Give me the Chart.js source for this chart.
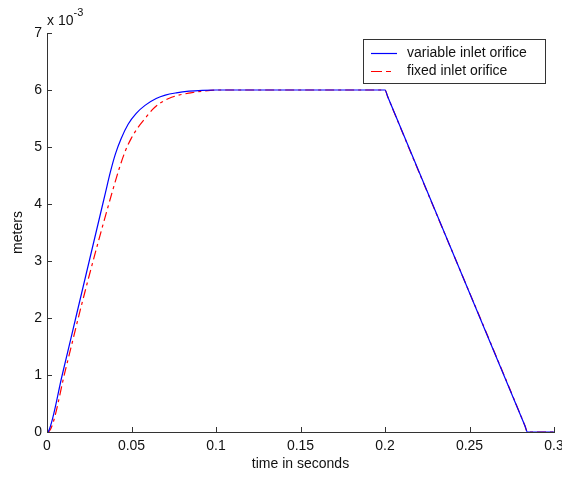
<!DOCTYPE html>
<html><head><meta charset="utf-8">
<script src="https://cdn.jsdelivr.net/npm/chart.js@4"></script>
<style>html,body{margin:0;padding:0;background:#fff;}</style>
</head><body>
<canvas id="c" width="562" height="477"></canvas>
<script>
const xTicks = [0, 0.05, 0.1, 0.15, 0.2, 0.25, 0.3];
const yTicks = [0, 1, 2, 3, 4, 5, 6, 7];
const seriesNames = ['variable inlet orifice', 'fixed inlet orifice'];
// values in units of 1e-3 meters
const variableTime   = [0, 0.001, 0.009, 0.017, 0.025, 0.033, 0.0346, 0.0374, 0.0405, 0.0439, 0.048, 0.0528, 0.058, 0.0646, 0.07, 0.0765, 0.084, 0.092, 0.1, 0.2, 0.2015, 0.2828, 0.2843, 0.3];
const variableMeters = [0, 0.02, 1.0, 2.0, 3.0, 4.0, 4.2, 4.55, 4.88, 5.15, 5.4, 5.59, 5.73, 5.85, 5.91, 5.95, 5.98, 5.995, 6.0, 6.0, 5.89, 0.11, 0, 0];
const fixedTime   = [0, 0.0015, 0.011, 0.0202, 0.03, 0.0385, 0.0425, 0.0462, 0.05, 0.054, 0.058, 0.0625, 0.067, 0.072, 0.078, 0.085, 0.092, 0.1, 0.2, 0.2015, 0.2828, 0.2843, 0.3];
const fixedMeters = [0, 0.02, 1.1, 2.2, 3.3, 4.2, 4.6, 4.92, 5.16, 5.35, 5.5, 5.66, 5.77, 5.85, 5.91, 5.95, 5.98, 6.0, 6.0, 5.89, 0.11, 0, 0];

const FONT = '"Liberation Sans", Arial, sans-serif';
const TXT = '#111';
const AX = '#333';

const matlabAxes = {
  id: 'matlabAxes',
  afterDraw(chart) {
    const {ctx, chartArea: a, scales: {x, y}} = chart;
    ctx.save();
    ctx.strokeStyle = AX; ctx.lineWidth = 1;
    ctx.beginPath();
    xTicks.forEach(v => { const px = Math.round(x.getPixelForValue(v)) + 0.5; ctx.moveTo(px, a.bottom); ctx.lineTo(px, a.bottom - 5); });
    yTicks.forEach(v => { const py = Math.round(y.getPixelForValue(v)) + 0.5; ctx.moveTo(a.left, py); ctx.lineTo(a.left + 5, py); });
    ctx.stroke();
    // exponent label
    ctx.fillStyle = TXT; ctx.textAlign = 'left'; ctx.textBaseline = 'alphabetic';
    ctx.font = '14px ' + FONT;
    ctx.fillText('x 10', a.left, 25);
    const w = ctx.measureText('x 10').width;
    ctx.font = '11px ' + FONT;
    ctx.fillText('-3', a.left + w, 16);
    // legend box
    const bx = 363.5, by = 39.5, bw = 182, bh = 44;
    ctx.fillStyle = '#fff'; ctx.fillRect(bx, by, bw, bh);
    ctx.strokeStyle = AX; ctx.strokeRect(bx, by, bw, bh);
    const rows = [53, 71];
    chart.data.datasets.forEach((ds, i) => {
      ctx.strokeStyle = ds.borderColor; ctx.lineWidth = 1.2;
      ctx.setLineDash(ds.legendDash || []);
      ctx.beginPath(); ctx.moveTo(371, rows[i] + 0.5); ctx.lineTo(397, rows[i] + 0.5); ctx.stroke();
      ctx.setLineDash([]);
      ctx.fillStyle = TXT; ctx.font = '14px ' + FONT; ctx.textBaseline = 'middle';
      ctx.fillText(ds.label, 407, rows[i]);
    });
    ctx.restore();
  }
};

const toPts = (t, v) => t.map((tt, i) => ({x: tt, y: v[i]}));

new Chart(document.getElementById('c'), {
  type: 'line',
  data: {
    datasets: [
      {label: seriesNames[0], data: toPts(variableTime, variableMeters), borderColor: '#0000ff', borderWidth: 1.2, pointRadius: 0, cubicInterpolationMode: 'monotone', fill: false},
      {label: seriesNames[1], data: toPts(fixedTime, fixedMeters), borderColor: '#ff0000', borderWidth: 1.2, borderDash: [9, 4, 3, 4], legendDash: [11, 4, 5, 20], pointRadius: 0, cubicInterpolationMode: 'monotone', fill: false}
    ]
  },
  options: {
    responsive: false, animation: false,
    layout: {padding: {top: 33, right: 8, left: 0, bottom: 0}},
    plugins: {legend: {display: false}, tooltip: {enabled: false}},
    scales: {
      x: {
        type: 'linear', min: 0, max: 0.3,
        afterBuildTicks(s) { s.ticks = xTicks.map(v => ({value: v})); },
        ticks: {font: {family: FONT, size: 14}, color: TXT, padding: 6, maxRotation: 0, autoSkip: false, callback: v => String(v)},
        grid: {display: false, drawTicks: false},
        border: {color: AX, width: 1},
        title: {display: true, text: 'time in seconds', font: {family: FONT, size: 14}, color: TXT, padding: {top: 0, bottom: 4}},
        afterFit(s) { s.height = 45; s.paddingLeft = 0; s.paddingRight = 0; }
      },
      y: {
        type: 'linear', min: 0, max: 7,
        afterBuildTicks(s) { s.ticks = yTicks.map(v => ({value: v})); },
        ticks: {font: {family: FONT, size: 14}, color: TXT, padding: 5, autoSkip: false, callback: v => String(v)},
        grid: {display: false, drawTicks: false},
        border: {color: AX, width: 1},
        title: {display: true, text: 'meters', font: {family: FONT, size: 14}, color: TXT, padding: {top: 10, bottom: 0}},
        afterFit(s) { s.width = 47; s.paddingTop = 0; s.paddingBottom = 0; }
      }
    }
  },
  plugins: [matlabAxes]
});
</script>
</body></html>
